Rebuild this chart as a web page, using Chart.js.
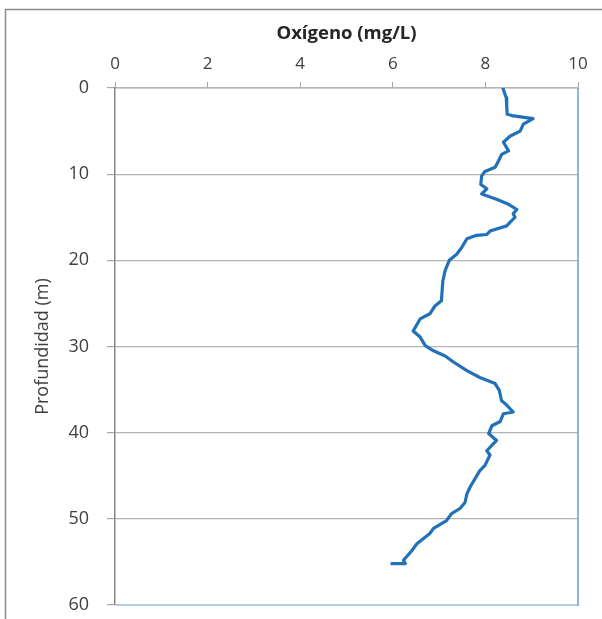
<!DOCTYPE html>
<html>
<head>
<meta charset="utf-8">
<script src="https://cdn.jsdelivr.net/npm/chart.js@4/dist/chart.umd.min.js"></script>
<style>
html,body{margin:0;padding:0;background:#fff;}
canvas{display:block;}
</style>
</head>
<body>
<canvas id="c" width="602" height="619"></canvas>
<script>
const depth = [
  0, 0.4, 1.1, 2.0, 3.05, 3.2, 3.55, 4.2, 5.0, 5.6,
  6.3, 7.3, 7.7, 8.5, 9.2, 9.7, 10.2, 11.2, 11.7, 12.3,
  12.9, 13.5, 14.1, 14.6, 15.0, 15.6, 16.0, 16.6, 17.0, 17.1,
  17.5, 18.5, 19.3, 20.0, 21.2, 22.4, 24.7, 25.3, 26.2, 26.8,
  28.2, 28.9, 29.9, 30.5, 31.1, 31.8, 32.8, 33.6, 34.3, 35.1,
  36.3, 36.8, 37.6, 37.8, 38.7, 39.2, 40.1, 40.9, 42.1, 42.6,
  43.8, 44.4, 45.3, 46.3, 47.1, 48.1, 48.8, 49.4, 50.2, 51.1,
  51.7, 52.9, 53.7, 54.8, 55.2, 55.2
];
const oxygen = [
  8.38, 8.40, 8.45, 8.46, 8.47, 8.57, 9.03, 8.82, 8.75, 8.53,
  8.39, 8.50, 8.35, 8.28, 8.21, 7.99, 7.92, 7.90, 8.03, 7.92,
  8.24, 8.50, 8.68, 8.60, 8.64, 8.53, 8.46, 8.10, 8.03, 7.81,
  7.60, 7.49, 7.38, 7.22, 7.13, 7.08, 7.05, 6.91, 6.80, 6.59,
  6.44, 6.59, 6.70, 6.88, 7.13, 7.31, 7.60, 7.88, 8.21, 8.30,
  8.35, 8.46, 8.60, 8.39, 8.32, 8.14, 8.07, 8.24, 8.03, 8.10,
  7.99, 7.88, 7.78, 7.67, 7.60, 7.56, 7.45, 7.27, 7.16, 6.88,
  6.80, 6.52, 6.41, 6.23, 6.27, 5.98
];
const xTitle = 'Oxígeno (mg/L)';
const yTitle = 'Profundidad (m)';

const points = depth.map((d, i) => ({ x: oxygen[i], y: d }));

const framePlugin = {
  id: 'frame',
  beforeDraw(chart) {
    const ctx = chart.ctx;
    ctx.save();
    ctx.strokeStyle = '#8c8c8c';
    ctx.lineWidth = 1.5;
    ctx.strokeRect(5.5, 9.5, 800, 800);
    ctx.restore();
  },
  afterDraw(chart) {
    const ctx = chart.ctx;
    const a = chart.chartArea;
    ctx.save();
    ctx.strokeStyle = '#b9cde5';
    ctx.lineWidth = 2;
    ctx.beginPath();
    ctx.moveTo(a.left, a.bottom);
    ctx.lineTo(a.right, a.bottom);
    ctx.stroke();
    ctx.strokeStyle = '#6f9bd6';
    ctx.lineWidth = 1.5;
    ctx.beginPath();
    ctx.moveTo(a.right, a.top);
    ctx.lineTo(a.right, a.bottom + 1);
    ctx.stroke();
    ctx.restore();
  }
};

new Chart(document.getElementById('c'), {
  type: 'scatter',
  data: {
    datasets: [{
      data: points,
      showLine: true,
      borderColor: '#2171b8',
      backgroundColor: '#2171b8',
      borderWidth: 3.2,
      pointRadius: 0,
      tension: 0,
      borderJoinStyle: 'round',
      borderCapStyle: 'round'
    }]
  },
  options: {
    responsive: false,
    animation: false,
    layout: { padding: { left: 0, top: 0, right: 24, bottom: 14 } },
    plugins: { legend: { display: false }, tooltip: { enabled: false } },
    scales: {
      x: {
        type: 'linear',
        position: 'top',
        min: 0, max: 10,
        afterFit(s) { s.height = 88; s.paddingLeft = 0; s.paddingRight = 0; },
        ticks: {
          stepSize: 2,
          padding: 8,
          color: '#404040',
          font: { family: "'Open Sans', sans-serif", size: 17 }
        },
        grid: { drawOnChartArea: false, drawTicks: true, tickLength: 6, tickColor: '#a6a6a6' },
        border: { color: '#b3b3b3', width: 1.5 },
        title: {
          display: true,
          text: xTitle,
          color: '#262626',
          padding: { top: 23, bottom: 0 },
          font: { family: "'Open Sans', sans-serif", size: 18.5, weight: 'bold' }
        }
      },
      y: {
        type: 'linear',
        reverse: true,
        min: 0, max: 60,
        afterFit(s) { s.width = 115; s.paddingTop = 0; s.paddingBottom = 0; },
        ticks: {
          stepSize: 10,
          padding: 18,
          color: '#404040',
          font: { family: "'Open Sans', sans-serif", size: 18 }
        },
        grid: {
          color: (c) => (c.tick && c.tick.value === 60) ? 'rgba(0,0,0,0)' : '#b3b3b3',
          lineWidth: 1.2,
          tickLength: 8,
          tickColor: '#a6a6a6'
        },
        border: { color: '#878787', width: 1.5 },
        title: {
          display: true,
          text: yTitle,
          color: '#404040',
          padding: { top: 32, bottom: 0 },
          font: { family: "'Open Sans', sans-serif", size: 18 }
        }
      }
    }
  },
  plugins: [framePlugin]
});
</script>
</body>
</html>
